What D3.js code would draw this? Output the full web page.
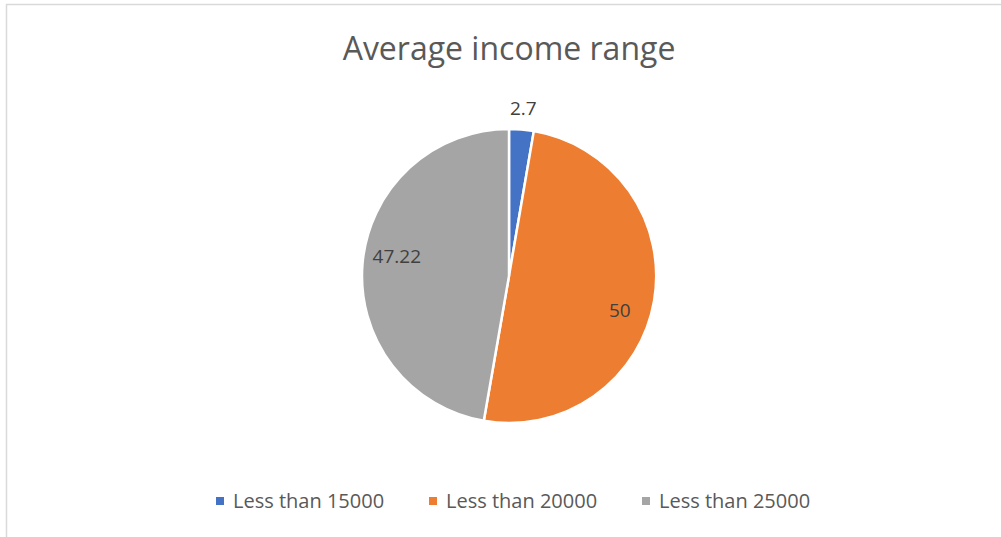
<!DOCTYPE html>
<html>
<head>
<meta charset="utf-8">
<script src="https://cdn.jsdelivr.net/npm/d3@7"></script>
<style>
body { margin: 0; background: #fff; }
text { font-family: "Open Sans", "Noto Sans", sans-serif; }
</style>
</head>
<body>
<div id="chart"></div>
<script>
var width = 1001,
	height = 537;

var categories = ['Less than 15000', 'Less than 20000', 'Less than 25000'];
var values = [2.7, 50, 47.22];
var labels = ['2.7', '50', '47.22'];
var colors = ['#4472C4', '#ED7D31', '#A5A5A5'];

var cx = 509, cy = 276, radius = 147;

var svg = d3.select('#chart')
	.append('svg')
	.attr('width', width)
	.attr('height', height);

// chart border
svg.append('rect')
	.attr('x', 6.5)
	.attr('y', 4.5)
	.attr('width', width)
	.attr('height', height)
	.attr('fill', 'none')
	.attr('stroke', '#d9d9d9')
	.attr('stroke-width', 1.5);

svg.append('text')
	.attr('x', 509)
	.attr('y', 60)
	.attr('text-anchor', 'middle')
	.attr('font-size', 32)
	.attr('fill', '#595959')
	.text('Average income range');

var pie = d3.pie().sort(null).value(function(d) { return d; });
var arcs = pie(values);

var arc = d3.arc().innerRadius(0).outerRadius(radius);

var g = svg.append('g').attr('transform', 'translate(' + cx + ',' + cy + ')');

g.selectAll('path')
	.data(arcs)
	.enter()
	.append('path')
	.attr('d', arc)
	.attr('fill', function(d, i) { return colors[i]; })
	.attr('stroke', '#fff')
	.attr('stroke-width', 2.5);

// label radii: small slice outside, others inside
var labelRadius = [168, 116, 114];
g.selectAll('text.lbl')
	.data(arcs)
	.enter()
	.append('text')
	.attr('class', 'lbl')
	.attr('transform', function(d, i) {
		var a = (d.startAngle + d.endAngle) / 2;
		if (i == 1) a += 0.13;
		if (i == 2) a += 0.09;
		var r = labelRadius[i];
		return 'translate(' + (Math.sin(a) * r) + ',' + (-Math.cos(a) * r) + ')';
	})
	.attr('text-anchor', 'middle')
	.attr('dy', '0.35em')
	.attr('font-size', 19)
	.attr('fill', '#404040')
	.text(function(d, i) { return labels[i]; });

// legend
var legendX = [216, 429, 642];
var leg = svg.selectAll('g.leg')
	.data(categories)
	.enter()
	.append('g')
	.attr('class', 'leg')
	.attr('transform', function(d, i) { return 'translate(' + legendX[i] + ',501)'; });

leg.append('rect')
	.attr('x', 0)
	.attr('y', -4)
	.attr('width', 8)
	.attr('height', 8)
	.attr('fill', function(d, i) { return colors[i]; });

leg.append('text')
	.attr('x', 17)
	.attr('dy', '0.35em')
	.attr('font-size', 20)
	.attr('fill', '#595959')
	.text(function(d) { return d; });
</script>
</body>
</html>
